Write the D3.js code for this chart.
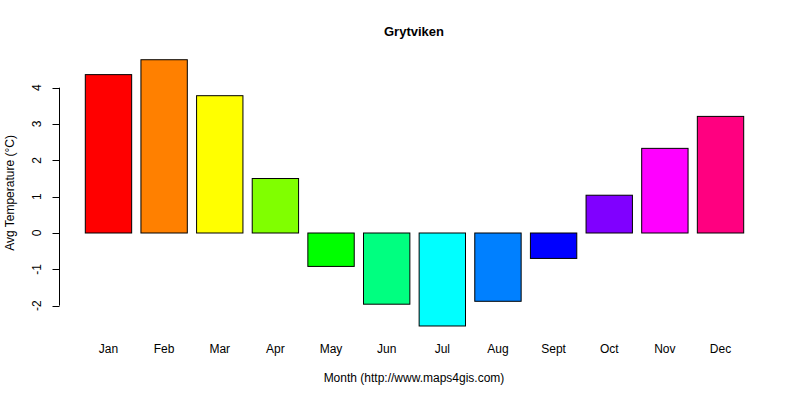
<!DOCTYPE html>
<html><head><meta charset="utf-8">
<script src="https://cdn.jsdelivr.net/npm/d3@7"></script>
<style>body{margin:0;background:#fff;}svg{font-family:"Liberation Sans",Arial,sans-serif;}</style>
</head><body>
<svg id="c" width="800" height="400"></svg>
<script>
const months = ["Jan","Feb","Mar","Apr","May","Jun","Jul","Aug","Sept","Oct","Nov","Dec"];
const temps = [4.36, 4.77, 3.78, 1.50, -0.92, -1.96, -2.56, -1.88, -0.70, 1.04, 2.33, 3.21];
const colors = ["#FF0000","#FF8000","#FFFF00","#80FF00","#00FF00","#00FF80","#00FFFF","#0080FF","#0000FF","#8000FF","#FF00FF","#FF0080"];
const yTicks = [-2,-1,0,1,2,3,4];
const title = "Grytviken";
const xTitle = "Month (http://www.maps4gis.com)";
const yTitle = "Avg Temperature (°C)";

const svg = d3.select("#c");
// x in barplot units: bar i spans [0.2+1.2i, 1.2+1.2i]
const x = d3.scaleLinear().domain([0.2, 14.4]).range([85.3, 743.7]);
const y = d3.scaleLinear().domain([0, 4]).range([233, 87.7]);

svg.selectAll("rect.bar").data(temps).enter().append("rect")
  .attr("class","bar")
  .attr("x", (d,i)=>x(0.2+1.2*i))
  .attr("width", (d,i)=>x(1.2+1.2*i)-x(0.2+1.2*i))
  .attr("y", d=>Math.min(y(d),y(0)))
  .attr("height", d=>Math.abs(y(d)-y(0)))
  .attr("fill",(d,i)=>colors[i])
  .attr("stroke","#000").attr("stroke-width",1);

// y axis
const ax = svg.append("g").attr("transform","translate(59.5,0)");
ax.append("line").attr("x1",0).attr("x2",0).attr("y1",y(-2)).attr("y2",y(4)).attr("stroke","#000");
ax.selectAll("line.t").data(yTicks).enter().append("line")
  .attr("x1",0).attr("x2",-7).attr("y1",d=>Math.round(y(d))+0.5).attr("y2",d=>Math.round(y(d))+0.5).attr("stroke","#000");
ax.selectAll("text").data(yTicks).enter().append("text")
  .attr("transform",d=>`translate(-19,${y(d)}) rotate(-90)`)
  .attr("text-anchor","middle").attr("font-size",12).text(d=>d);

// month labels
svg.selectAll("text.m").data(months).enter().append("text")
  .attr("class","m")
  .attr("x",(d,i)=>x(0.7+1.2*i)).attr("y",353)
  .attr("text-anchor","middle").attr("font-size",12).text(d=>d);

svg.append("text").attr("x",414).attr("y",36).attr("text-anchor","middle")
  .attr("font-size",13).attr("font-weight","bold").text(title);
svg.append("text").attr("x",414).attr("y",382).attr("text-anchor","middle")
  .attr("font-size",12).text(xTitle);
svg.append("text").attr("transform","translate(14,193) rotate(-90)").attr("text-anchor","middle")
  .attr("font-size",12).text(yTitle);
</script>
</body></html>
